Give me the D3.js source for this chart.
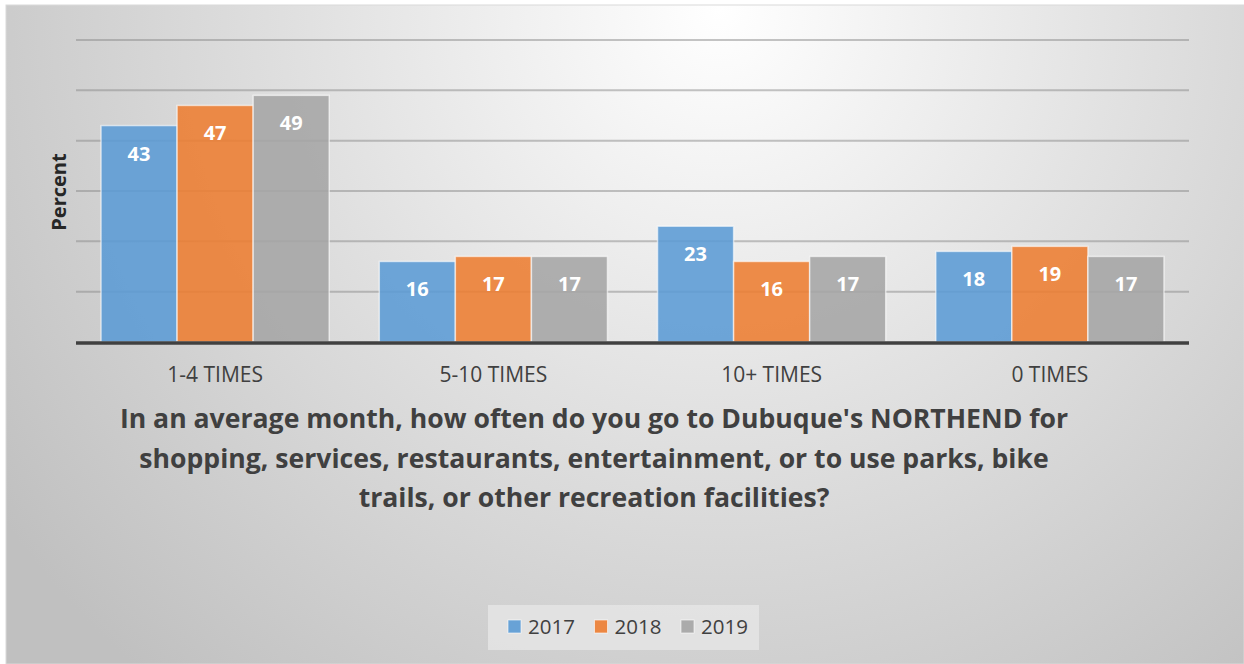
<!DOCTYPE html>
<html>
<head>
<meta charset="utf-8">
<script src="https://cdn.jsdelivr.net/npm/d3@7"></script>
<style>
  body { margin: 0; background: #fff; }
  svg { display: block; font-family: "Open Sans", "Noto Sans", sans-serif; }
</style>
</head>
<body>
<div class="chart"></div>
<script>
// survey results, percent per answer and year
var categories = ['1-4 TIMES', '5-10 TIMES', '10+ TIMES', '0 TIMES'];
var years = ['2017', '2018', '2019'];
var values2017 = [43, 16, 23, 18];
var values2018 = [47, 17, 16, 19];
var values2019 = [49, 17, 17, 17];
var yTicks = [0, 10, 20, 30, 40, 50, 60];
var titleLines = [
  "In an average month, how often do you go to Dubuque's NORTHEND for",
  'shopping, services, restaurants, entertainment, or to use parks, bike',
  'trails, or other recreation facilities?'
];

var series = [values2017, values2018, values2019];
var colors = ['#5b9bd5', '#ed7d31', '#a5a5a5'];

var width = 1244, height = 664;
var plot = { left: 76, right: 1189, top: 40, bottom: 342 };

var svg = d3.select('.chart').append('svg')
  .attr('width', width)
  .attr('height', height);

var defs = svg.append('defs');
var grad = defs.append('radialGradient')
  .attr('id', 'bg')
  .attr('gradientUnits', 'userSpaceOnUse')
  .attr('cx', 720).attr('cy', 10)
  .attr('r', 880);
grad.append('stop').attr('offset', '0%').attr('stop-color', '#ffffff');
grad.append('stop').attr('offset', '45%').attr('stop-color', '#e2e2e2');
grad.append('stop').attr('offset', '100%').attr('stop-color', '#c0c0c0');

svg.append('rect')
  .attr('x', 6).attr('y', 5)
  .attr('width', width - 6).attr('height', height - 5)
  .attr('fill', 'url(#bg)')
  .attr('stroke', '#d9d9d9');

var x0 = d3.scaleBand()
  .domain(categories)
  .range([plot.left, plot.right])
  .paddingInner(0.18)
  .paddingOuter(0.09);

var x1 = d3.scaleBand()
  .domain(years)
  .range([0, x0.bandwidth()]);

var y = d3.scaleLinear()
  .domain([0, 60])
  .range([plot.bottom, plot.top]);

// gridlines
svg.append('g').selectAll('line')
  .data(yTicks.filter(function(d) { return d > 0; }))
  .enter().append('line')
    .attr('x1', plot.left)
    .attr('x2', plot.right)
    .attr('y1', function(d) { return y(d); })
    .attr('y2', function(d) { return y(d); })
    .attr('stroke', '#8a8a8a')
    .attr('stroke-opacity', 0.5)
    .attr('stroke-width', 2);

// bars
var groups = svg.append('g').selectAll('g')
  .data(categories)
  .enter().append('g')
    .attr('transform', function(d) { return 'translate(' + x0(d) + ',0)'; });

var bars = groups.selectAll('g')
  .data(function(d, i) {
    return years.map(function(yr, j) { return { year: yr, value: series[j][i], color: colors[j] }; });
  })
  .enter().append('g');

bars.append('rect')
  .attr('x', function(d) { return x1(d.year); })
  .attr('y', function(d) { return y(d.value); })
  .attr('width', x1.bandwidth())
  .attr('height', function(d) { return y(0) - y(d.value); })
  .attr('fill', function(d) { return d.color; })
  .attr('fill-opacity', 0.88)
  .attr('stroke', '#ffffff')
  .attr('stroke-opacity', 0.6)
  .attr('stroke-width', 1.5);

bars.append('text')
  .attr('x', function(d) { return x1(d.year) + x1.bandwidth() / 2; })
  .attr('y', function(d) { return y(d.value) + 35; })
  .attr('text-anchor', 'middle')
  .attr('fill', '#ffffff')
  .attr('font-weight', 'bold')
  .attr('font-size', 20)
  .text(function(d) { return d.value; });

// baseline
svg.append('line')
  .attr('x1', plot.left).attr('x2', plot.right)
  .attr('y1', y(0) + 1).attr('y2', y(0) + 1)
  .attr('stroke', '#404040')
  .attr('stroke-width', 3.5);

// category labels
svg.append('g').selectAll('text')
  .data(categories)
  .enter().append('text')
    .attr('x', function(d) { return x0(d) + x0.bandwidth() / 2; })
    .attr('y', 382)
    .attr('text-anchor', 'middle')
    .attr('fill', '#404040')
    .attr('font-size', 21)
    .text(function(d) { return d; });

// y axis title
svg.append('text')
  .attr('transform', 'translate(66,192) rotate(-90)')
  .attr('text-anchor', 'middle')
  .attr('fill', '#262626')
  .attr('font-weight', 'bold')
  .attr('font-size', 20)
  .text('Percent');

// x axis title
svg.append('g').selectAll('text')
  .data(titleLines)
  .enter().append('text')
    .attr('x', 594)
    .attr('y', function(d, i) { return 428 + i * 39.5; })
    .attr('text-anchor', 'middle')
    .attr('fill', '#404040')
    .attr('font-weight', 'bold')
    .attr('font-size', 26.6)
    .text(function(d) { return d; });

// legend
var legend = svg.append('g');
legend.append('rect')
  .attr('x', 488).attr('y', 605)
  .attr('width', 271).attr('height', 45)
  .attr('fill', '#e6e6e6')
  .attr('fill-opacity', 0.8);

var items = legend.selectAll('g')
  .data(years)
  .enter().append('g')
    .attr('transform', function(d, i) { return 'translate(' + (508 + i * 86.5) + ',620)'; });

items.append('rect')
  .attr('width', 13).attr('height', 13)
  .attr('fill', function(d, i) { return colors[i]; })
  .attr('fill-opacity', 0.9)
  .attr('stroke', '#ffffff')
  .attr('stroke-opacity', 0.6);

items.append('text')
  .attr('x', 20)
  .attr('y', 14)
  .attr('fill', '#404040')
  .attr('font-size', 20.5)
  .text(function(d) { return d; });
</script>
</body>
</html>
